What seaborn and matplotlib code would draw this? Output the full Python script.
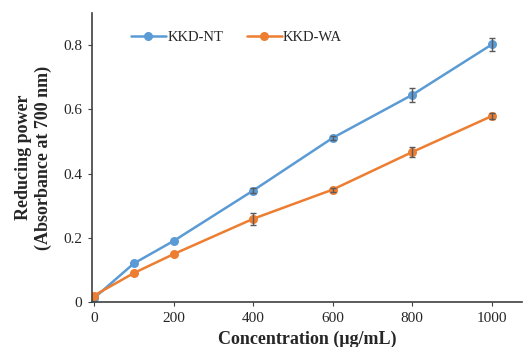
import matplotlib
matplotlib.use('Agg')
import matplotlib.pyplot as plt
import seaborn as sns
import pandas as pd
import numpy as np

concentration = [0, 100, 200, 400, 600, 800, 1000]
nt_values = [0.012, 0.12, 0.19, 0.347, 0.511, 0.645, 0.802]
nt_errors = [0.0, 0.0, 0.0, 0.009, 0.006, 0.022, 0.02]
wa_values = [0.02, 0.09, 0.149, 0.259, 0.35, 0.467, 0.579]
wa_errors = [0.0, 0.0, 0.0, 0.018, 0.006, 0.017, 0.01]
series_names = ['KKD-NT', 'KKD-WA']
colors = ['#5B9BD5', '#ED7D31']

sns.set_style('white')
plt.rcParams['font.family'] = ['Liberation Serif', 'DejaVu Serif']

df = pd.DataFrame({
    'Concentration': concentration * 2,
    'Value': nt_values + wa_values,
    'Error': nt_errors + wa_errors,
    'Sample': [series_names[0]] * len(concentration) + [series_names[1]] * len(concentration),
})

fig = plt.figure(figsize=(5.27, 3.47), dpi=100)
ax = fig.add_axes([0.1746, 0.1297, 0.8154, 0.833])

sns.lineplot(data=df, x='Concentration', y='Value', hue='Sample', palette=colors,
             marker='o', markersize=6.5, markeredgewidth=0, linewidth=1.8, ax=ax, zorder=2)

# error bars only where the SD is visible in the figure
for name in series_names:
    sub = df[(df['Sample'] == name) & (df['Error'] > 0)]
    ax.errorbar(sub['Concentration'], sub['Value'], yerr=sub['Error'], fmt='none',
                ecolor='#5a5a5a', elinewidth=1, capsize=2.5, capthick=1, zorder=3)

ax.set_xlim(-5, 1075)
ax.set_ylim(0, 0.9)
ax.set_xticks([0, 200, 400, 600, 800, 1000])
ax.set_yticks([0, 0.2, 0.4, 0.6, 0.8])
ax.set_yticklabels(['0', '0.2', '0.4', '0.6', '0.8'])
ax.tick_params(axis='both', labelsize=11, length=3, direction='out', color='#404040',
               bottom=True, left=True, pad=4)

for side in ['top', 'right']:
    ax.spines[side].set_visible(False)
for side in ['left', 'bottom']:
    ax.spines[side].set_color('#404040')
    ax.spines[side].set_linewidth(1.2)

ax.set_xlabel('Concentration (\u03bcg/mL)', fontsize=13, fontweight='bold', labelpad=4)
ax.set_ylabel('Reducing power\n(Absorbance at 700 nm)', fontsize=13, fontweight='bold', labelpad=8)

leg = ax.legend(loc='upper left', bbox_to_anchor=(0.06, 0.985), ncol=2, frameon=False,
                fontsize=10.5, handlelength=2.4, handletextpad=0.1, columnspacing=1.6)
for h in leg.legend_handles:
    h.set_markersize(6.5)
    h.set_markeredgewidth(0)
    h.set_linewidth(1.8)

fig.savefig('out.png', dpi=100)
